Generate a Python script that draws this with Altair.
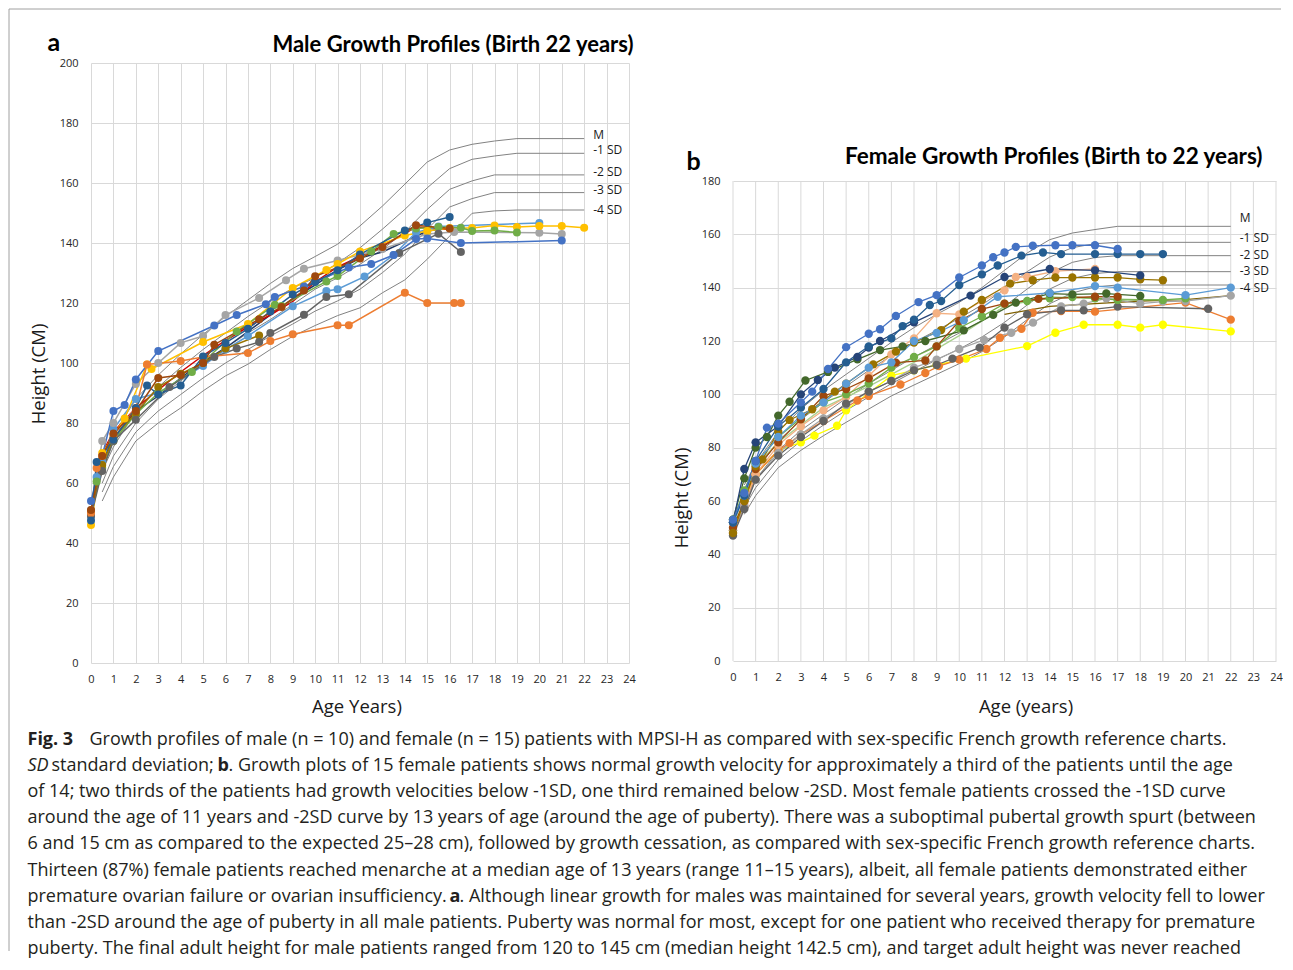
import altair as alt
import pandas as pd

FONT = "Open Sans"
TITLE_FONT = "Lato"
GRID = "#d9d9d9"
REF_COLOR = "#828282"
TEXT = "#1a1a1a"

AGE_TICKS = list(range(25))
MALE_HEIGHT_TICKS = list(range(0, 201, 20))
FEMALE_HEIGHT_TICKS = list(range(0, 181, 20))
REF_NAMES = ["M", "-1 SD", "-2 SD", "-3 SD", "-4 SD"]

# ---------------- male reference curves ----------------
MALE_REF_AGE = [0.5, 1, 2, 3, 4, 5, 6, 7, 8, 9, 10, 11, 12, 13, 14, 15, 16, 17, 18, 19, 22]
MALE_REF_M = [68, 76, 88, 96, 103, 109.5, 115.5, 121, 126.5, 131.5, 135.5, 139.6, 145.7, 152.3, 159.6, 167, 171, 172.9, 174, 174.8, 174.8]
MALE_REF_SD1 = [64, 72, 84, 92, 98.5, 104.5, 110, 115.5, 120.5, 125, 128.4, 133.3, 138.4, 144.6, 151.2, 158.4, 164.8, 167.9, 169, 169.9, 169.9]
MALE_REF_SD2 = [60, 69, 80, 88, 94, 99.5, 105, 110, 114.5, 119.5, 124.6, 128.4, 132.9, 137.9, 143.7, 151.2, 157.9, 160.7, 162.7, 162.7, 162.7]
MALE_REF_SD3 = [57, 65.5, 77, 84, 89.5, 95, 100, 104.5, 109, 113, 117.3, 120.7, 124.6, 130.1, 136.3, 144.6, 152, 154.8, 156.8, 156.8, 156.8]
MALE_REF_SD4 = [54, 62, 74, 80, 85, 90.7, 95.7, 99.6, 104.5, 108.9, 112.5, 115.8, 118.4, 123.4, 127.7, 134.6, 142.3, 149.9, 150.7, 151, 151]

# ---------------- female reference curves ----------------
FEMALE_REF_AGE = [0.5, 1, 2, 3, 4, 5, 6, 7, 8, 9, 10, 11, 12, 13, 14, 15, 16, 17, 22]
FEMALE_REF_M = [66, 74, 86, 94.5, 101.5, 107.5, 113.5, 119.5, 125, 130, 134.5, 140, 146.5, 153, 158, 160.5, 161.8, 163, 163]
FEMALE_REF_SD1 = [63, 71, 82.5, 90.5, 97, 103, 109, 114.5, 119.5, 124, 128.5, 133.5, 139.5, 146, 151.5, 155, 156.5, 157, 157]
FEMALE_REF_SD2 = [60, 68, 79, 86.5, 92.5, 98.5, 104, 109, 114, 118.5, 123, 127.5, 133, 139.5, 145.5, 149.5, 151.3, 152, 152]
FEMALE_REF_SD3 = [57.5, 65, 75.5, 82.5, 88.5, 94, 99, 104, 108.5, 113, 117, 121.5, 127, 133.5, 139.5, 143.5, 145.3, 146, 146]
FEMALE_REF_SD4 = [55, 62, 72.5, 79, 84.5, 89.5, 94.5, 99.4, 103.5, 107.5, 111.5, 116, 121.5, 128, 134, 138, 140.3, 141, 141]

# ---------------- male patients (age, height) ----------------
M_BLUE = [(0, 54), (1, 84), (1.5, 86), (2, 94.5), (3, 104), (5.5, 112.5), (6.5, 116), (7.8, 119.6), (8.2, 122), (9.5, 125.5), (11.5, 131.8), (12.5, 133), (13.5, 136), (14.5, 141.3), (15, 141.5), (16.5, 140), (21, 140.8)]
M_LIGHTBLUE = [(0, 49), (0.25, 62), (0.5, 67), (1, 78), (2, 88), (3, 90), (5, 99), (6, 104.5), (7, 109), (9, 118.9), (10.5, 124), (11, 124.6), (12.2, 128.8), (13.5, 136), (14.5, 143.5), (15.5, 145.5), (20, 146.7)]
M_GRAY = [(0, 51), (0.5, 74), (1, 80), (2, 93), (3, 100), (4, 106.7), (5, 109), (6, 116), (7.5, 121.7), (8.7, 127.6), (9.5, 131.4), (11, 134.2), (13, 138), (15, 143), (16.2, 143.7), (20, 143.4), (21, 143)]
M_GOLD = [(0, 46), (0.5, 70), (1.5, 81.5), (2.5, 99.5), (2.7, 98), (5, 107), (7, 113), (9, 125), (10.5, 131), (11, 133), (12, 137.2), (14, 142.5), (15, 144), (16, 145), (17, 145), (18, 145.8), (19, 145.3), (20, 145.7), (21, 145.7), (22, 145.1)]
M_GREEN = [(0, 50), (0.25, 60.5), (0.5, 65), (1, 74), (2, 83), (3, 90), (4.5, 97), (6.5, 110.5), (8.2, 119.4), (8.5, 119), (10.5, 127.2), (11, 129), (12.5, 137.2), (13.5, 143), (14.5, 144.8), (15.5, 145.3), (16.5, 145.1), (17, 144), (18, 144.2), (19, 143.5)]
M_DARKBLUE = [(0, 47.5), (0.25, 67), (1, 74.5), (2, 85), (2.5, 92.5), (3, 89.5), (4, 92.5), (5, 102.2), (6, 106.7), (7, 111.4), (8, 117.2), (9, 122.8), (10, 127), (11, 130.9), (12, 136.2), (14, 144.2), (15, 146.8), (16, 148.7)]
M_BROWN = [(0, 51), (0.5, 69), (1, 76.5), (2, 84), (3, 95), (4, 96), (5, 100), (5.5, 106.1), (7.5, 114.6), (8.5, 118.7), (9.5, 124.2), (10, 128.9), (12, 134.8), (13, 138.7), (14.5, 145.9), (16, 144.8)]
M_OLIVE = [(0, 50), (0.5, 66), (1, 75), (2, 83.3), (3, 92), (4, 96.4), (5, 100), (6, 104.8), (7.5, 109.2)]
M_DARKGRAY = [(0, 49), (0.5, 64), (1, 74), (2, 81.1), (3.5, 92), (5.5, 102), (6.5, 104.8), (7.5, 107), (8, 110), (9.5, 116.1), (10.5, 122), (11.5, 122.9), (13.75, 136.7), (15.5, 143.1), (16.5, 137)]
M_ORANGE = [(0, 50), (0.25, 65), (0.5, 69), (1, 76), (2, 85), (2.5, 99.5), (4, 100.7), (5, 102), (7, 103.3), (8, 107.3), (9, 109.6), (11, 112.6), (11.5, 112.6), (14, 123.4), (15, 120), (16.2, 120), (16.5, 120)]
M_RED = [(0, 50), (0.5, 70), (1, 77), (2, 85), (3, 91), (4, 97), (5, 102.5), (6, 107.5), (7, 112), (8, 116), (9, 120.5), (10, 127), (11, 132), (12, 135.5), (13, 139), (14.5, 145.3), (16, 144.5)]
M_NAVY = [(0, 49), (0.5, 67), (1, 75), (2, 84), (3, 89), (4, 95), (5, 100.5), (6, 105), (7, 110.5), (8, 116), (9, 121.5), (10, 126), (11, 131), (12, 135), (13, 137), (14, 140.5), (15, 144), (16, 145)]

MALE_NAMES = ["m_navy", "m_red", "m_lightblue", "m_gray", "m_gold", "m_green", "m_olive", "m_darkgray", "m_orange", "m_blue", "m_darkblue", "m_brown"]
MALE_SERIES = [M_NAVY, M_RED, M_LIGHTBLUE, M_GRAY, M_GOLD, M_GREEN, M_OLIVE, M_DARKGRAY, M_ORANGE, M_BLUE, M_DARKBLUE, M_BROWN]
MALE_COLORS = ["#203864", "#d00000", "#5b9bd5", "#a5a5a5", "#ffc000", "#70ad47", "#997300", "#636363", "#ed7d31", "#4472c4", "#255e91", "#9e480e"]
MALE_MARKERS = [False, False, True, True, True, True, True, True, True, True, True, True]

# ---------------- female patients (age, height) ----------------
F_BLUE = [(0, 53), (0.5, 63), (1, 75), (1.5, 87.5), (2, 89), (3, 97), (3.5, 101), (4.2, 109.5), (5, 117.7), (6, 122.7), (6.5, 124.4), (7.2, 129.4), (8.2, 134.6), (9, 137.2), (10, 143.8), (11, 148.3), (11.5, 151.4), (12, 153.2), (12.5, 155.3), (13.25, 155.7), (14.25, 155.9), (15, 155.9), (16, 155.9), (17, 154.5)]
F_DARKBLUE = [(0, 52), (0.5, 62), (1, 75), (2, 88), (3, 95), (4, 102), (5, 112), (6, 118), (7, 121), (7.5, 125.6), (8, 128), (8.7, 133.5), (9.2, 135), (10, 141), (11, 145), (11.7, 148.3), (12.75, 152), (13.7, 153.2), (14.5, 152.6), (16, 152.6), (17, 152.6), (18, 152.6), (19, 152.6)]
F_NAVY = [(0, 52), (0.5, 72), (1, 82), (2, 88), (3, 100), (3.75, 105.4), (4.5, 110), (5.5, 114), (6, 117.5), (6.5, 120), (8, 127), (10.5, 137), (12, 144), (14, 147), (16, 146.5), (18, 144.6)]
F_PEACH = [(0, 49), (0.5, 59), (1, 70), (2, 81), (3, 88), (4, 94), (5, 99), (6, 107), (7, 115), (8, 121), (9, 130.4), (10, 130), (11, 135), (12, 139), (12.5, 144), (13, 144), (14.25, 146.2), (16, 147)]
F_ORANGE = [(0, 48), (0.5, 58), (1, 70), (2, 79), (2.5, 81.7), (3, 85), (4, 90), (5.5, 97.7), (6, 99.4), (7.4, 103.7), (8.5, 108), (9.1, 110.6), (10, 113), (11.2, 117), (11.8, 121.2), (12.75, 124.6), (13.25, 130.6), (14.5, 131.2), (16, 131), (20, 134.4), (22, 128)]
F_YELLOW = [(0, 49), (0.5, 60), (1, 70), (2, 79), (3, 82), (3.6, 84.5), (4.6, 88.2), (5, 94), (7, 107), (8, 109), (9, 111), (10.3, 113.4), (13, 118.1), (14.25, 123.1), (15.5, 126.1), (17, 126.1), (18, 125), (19, 126.1), (22, 123.6)]
F_GRAY = [(0, 49), (0.5, 58), (1, 68), (2, 78), (3, 85), (4, 91), (5, 96), (6, 101), (7, 105), (8, 110), (9, 113), (10, 117), (11.1, 120.4), (12.3, 123.1), (13.26, 126.9), (14.5, 133), (15.5, 134), (16.5, 136), (18, 134), (19, 134.8), (20, 135), (22, 137)]
F_DARKGRAY = [(0, 47), (0.5, 57), (1, 68), (2, 77), (3, 84), (4, 90), (5, 96.5), (6, 101), (7, 105), (8, 109), (9, 111), (9.7, 113.4), (10.9, 117.5), (12, 125), (13, 130), (14.5, 131.5), (15.5, 131.5), (17, 132.9), (21, 132.1)]
F_OLIVE = [(0, 48), (0.5, 60), (1, 73), (1.3, 75.6), (2, 86), (2.5, 90.4), (3.5, 94.4), (4.5, 101), (5, 104), (6.2, 111.25), (7.2, 116), (8, 119.4), (9.2, 124.1), (10.2, 131), (11, 135.4), (12.25, 141.5), (13.25, 142.8), (14.25, 143.8), (15, 143.8), (16, 143.8), (17, 143.8), (18, 143.1), (19, 142.8)]
F_BROWN = [(0, 50), (0.5, 60), (1, 72), (2, 82), (3, 90.6), (4, 99.4), (5, 102), (6, 106), (7.2, 111.9), (8.5, 112.7), (9, 118), (10, 127.5), (11, 132), (12, 134), (13.5, 135.8), (16, 136.6), (17, 136.6)]
F_GREEN = [(0, 53), (0.5, 64), (1, 74), (2, 84), (3, 91), (4, 97), (5, 100), (6, 104), (7, 110), (8, 114), (9, 118), (10, 124.9), (11, 129.2), (12, 134), (13, 135), (14, 136), (15, 136.5), (16, 136), (17, 135.4), (19, 135.4), (20, 136)]
F_DARKGREEN = [(0, 53), (0.5, 68.5), (1, 80), (1.5, 84), (2, 92), (2.5, 97.2), (3.2, 105.2), (4.2, 108.4), (5.5, 113.1), (6.5, 116.6), (7.5, 118), (8.5, 120), (10.2, 124), (11.5, 129.8), (12.5, 134.4), (14, 137.8), (15, 137.5), (16.5, 137.8), (18, 136.9)]
F_LIGHTBLUE = [(0, 52), (0.5, 62), (1, 74), (2, 84), (3, 92), (4, 97), (5, 104), (6, 110), (7, 112), (8, 120), (9, 123), (10.2, 127.8), (11.7, 136.6), (14, 138), (16, 140.6), (17, 140), (20, 137.2), (22, 140)]
F_LIGHTGREEN = [(0, 51), (1, 73), (2, 82), (4, 95), (6, 103), (8, 112), (10, 122), (12, 133), (14, 136.5), (16, 136), (18, 135.5), (20, 135.5)]
F_DARKOLIVE = [(12, 130), (14, 133), (16, 134), (18, 135), (20, 135.5), (22, 137)]

FEMALE_NAMES = ["f_darkolive", "f_lightgreen", "f_yellow", "f_orange", "f_peach", "f_gray", "f_darkgray", "f_green", "f_darkgreen", "f_brown", "f_olive", "f_lightblue", "f_navy", "f_darkblue", "f_blue"]
FEMALE_SERIES = [F_DARKOLIVE, F_LIGHTGREEN, F_YELLOW, F_ORANGE, F_PEACH, F_GRAY, F_DARKGRAY, F_GREEN, F_DARKGREEN, F_BROWN, F_OLIVE, F_LIGHTBLUE, F_NAVY, F_DARKBLUE, F_BLUE]
FEMALE_COLORS = ["#7f6000", "#a9d18e", "#ffff00", "#ed7d31", "#f4b183", "#a5a5a5", "#636363", "#70ad47", "#43682b", "#9e480e", "#997300", "#5b9bd5", "#264478", "#255e91", "#4472c4"]
FEMALE_MARKERS = [False, False, True, True, True, True, True, True, True, True, True, True, True, True, True]

CAPTION = [
    [("Fig. 3", "bold", 27), ("Growth profiles of male (n = 10) and female (n = 15) patients with MPSI-H as compared with sex-specific French growth reference charts.", "normal", 89)],
    [("SD", "italic", 27), ("standard deviation;", "normal", 51), ("b", "bold", 217), (". Growth plots of 15 female patients shows normal growth velocity for approximately a third of the patients until the age", "normal", 228)],
    [("of 14; two thirds of the patients had growth velocities below -1SD, one third remained below -2SD. Most female patients crossed the -1SD curve", "normal", 27)],
    [("around the age of 11 years and -2SD curve by 13 years of age (around the age of puberty). There was a suboptimal pubertal growth spurt (between", "normal", 27)],
    [("6 and 15 cm as compared to the expected 25\u201328 cm), followed by growth cessation, as compared with sex-specific French growth reference charts.", "normal", 27)],
    [("Thirteen (87%) female patients reached menarche at a median age of 13 years (range 11\u201315 years), albeit, all female patients demonstrated either", "normal", 27)],
    [("premature ovarian failure or ovarian insufficiency.", "normal", 27), ("a", "bold", 449), (". Although linear growth for males was maintained for several years, growth velocity fell to lower", "normal", 459)],
    [("than -2SD around the age of puberty in all male patients. Puberty was normal for most, except for one patient who received therapy for premature", "normal", 27)],
    [("puberty. The final adult height for male patients ranged from 120 to 145 cm (median height 142.5 cm), and target adult height was never reached", "normal", 27)],
]

ONE = pd.DataFrame({"k": [0]})


def ref_frame(ages, curves):
    rows = []
    for name, vals in zip(REF_NAMES, curves):
        for a, v in zip(ages, vals):
            rows.append({"curve": name, "age": a, "height": v})
    return pd.DataFrame(rows)


def series_frame(names, series, markers, only_markers=False):
    rows = []
    for name, pts, mk in zip(names, series, markers):
        if only_markers and not mk:
            continue
        for i, (a, h) in enumerate(pts):
            rows.append({"series": name, "age": a, "height": h, "ord": i})
    return pd.DataFrame(rows)


def text_layer(txt, x, y, size, weight="normal", style="normal", align="left",
               baseline="middle", font=FONT, color=TEXT):
    return alt.Chart(ONE).mark_text(
        text=txt, align=align, baseline=baseline, font=font, fontSize=size,
        fontWeight=weight, fontStyle=style, color=color
    ).encode(x=alt.value(x), y=alt.value(y))


def axis_x(title, tx, ty, grid):
    return alt.Axis(values=AGE_TICKS, grid=grid, gridColor=GRID, gridWidth=1, domain=False,
                    ticks=False, labelFont=FONT, labelFontSize=11, labelColor="#262626",
                    labelPadding=10, labelFlush=False, labelOverlap=False,
                    title=title, titleFont=FONT, titleFontSize=18.5, titleFontWeight="normal",
                    titleColor=TEXT, titleX=tx, titleY=ty, titleBaseline="middle",
                    titleAlign="center")


def axis_y(values, title, tx, ty):
    return alt.Axis(values=values, grid=True, gridColor=GRID, gridWidth=1, domain=False,
                    ticks=False, labelFont=FONT, labelFontSize=11, labelColor="#262626",
                    labelPadding=13, labelOverlap=False,
                    title=title, titleFont=FONT, titleFontSize=18.5, titleFontWeight="normal",
                    titleColor=TEXT, titleX=tx, titleY=ty, titleBaseline="middle",
                    titleAlign="center", titleAngle=-90)


def panel(ref_ages, ref_curves, label_dy, names, series, colors, markers, x_enc, y_enc, msize, lwidth):
    color = alt.Color("series:N", scale=alt.Scale(domain=names, range=colors), legend=None)
    layers = [alt.Chart(ref_frame(ref_ages, ref_curves)).mark_line(
        color=REF_COLOR, strokeWidth=1).encode(x=x_enc, y=y_enc, detail="curve:N", order="age:Q")]
    for name, curve, dy in zip(REF_NAMES, ref_curves, label_dy):
        lab = pd.DataFrame({"label": [name], "age": [ref_ages[-1]], "height": [curve[-1]]})
        layers.append(alt.Chart(lab).mark_text(
            align="left", baseline="middle", dx=9, dy=dy, font=FONT, fontSize=12, color=TEXT
        ).encode(x=x_enc, y=y_enc, text="label:N"))
    layers.append(alt.Chart(series_frame(names, series, markers)).mark_line(
        strokeWidth=lwidth).encode(x=x_enc, y=y_enc, color=color, order="ord:Q"))
    layers.append(alt.Chart(series_frame(names, series, markers, True)).mark_circle(
        size=msize, opacity=1).encode(x=x_enc, y=y_enc, color=color))
    return layers


# ---------------- left (male) panel ----------------
LX0, LY0 = 90.5, 62.5
mx = alt.X("age:Q", scale=alt.Scale(domain=[0, 24], nice=False, zero=False),
           axis=axis_x("Age Years)", 356 - LX0, 43.5, True))
my = alt.Y("height:Q", scale=alt.Scale(domain=[0, 200], nice=False),
           axis=axis_y(MALE_HEIGHT_TICKS, "Height (CM)", 38 - LX0, 373 - LY0))

male_layers = panel(MALE_REF_AGE, [MALE_REF_M, MALE_REF_SD1, MALE_REF_SD2, MALE_REF_SD3, MALE_REF_SD4],
                    [-4, -3, -3, -3, 0],
                    MALE_NAMES, MALE_SERIES, MALE_COLORS, MALE_MARKERS, mx, my, 64, 1.5)

male_layers.append(text_layer("Male Growth Profiles (Birth 22 years)", 633 - LX0, 51 - LY0, 22,
                              weight="bold", align="right", baseline="alphabetic", font=TITLE_FONT, color="#000000"))
male_layers.append(text_layer("a", 47 - LX0, 50 - LY0, 25, weight="bold", baseline="alphabetic",
                              font=TITLE_FONT, color="#000000"))

# figure frame
male_layers.append(alt.Chart(ONE).mark_rule(color="#a0a0a0", strokeWidth=1).encode(
    x=alt.value(-82), y=alt.value(-54), y2=alt.value(888)))
male_layers.append(alt.Chart(ONE).mark_rule(color="#a0a0a0", strokeWidth=1).encode(
    x=alt.value(-82), x2=alt.value(1190), y=alt.value(-54)))

# caption
for i, segs in enumerate(CAPTION):
    py = 739 + i * 26.2
    for txt, kind, px in segs:
        male_layers.append(text_layer(
            txt, px - LX0, py - LY0, 18,
            weight="bold" if kind == "bold" else "normal",
            style="italic" if kind == "italic" else "normal", color="#231f20"))

male_chart = alt.layer(*male_layers).properties(width=538, height=600)

# ---------------- right (female) panel ----------------
RX0, RY0 = 732.5, 62.5
RH = 598
RBOT = RY0 + RH
fx = alt.X("age:Q", scale=alt.Scale(domain=[0, 24], nice=False, zero=False),
           axis=axis_x("Age (years)", 1025 - RX0, 706 - RBOT, False))
fy = alt.Y("height:Q", scale=alt.Scale(domain=[0, 180 * RH / 480], nice=False),
           axis=axis_y(FEMALE_HEIGHT_TICKS, "Height (CM)", 681 - RX0, 497 - RY0))

grid_df = pd.DataFrame({"age": AGE_TICKS})
vgrid = alt.Chart(grid_df).mark_rule(color=GRID, strokeWidth=1).encode(
    x=fx, y=alt.datum(0), y2=alt.datum(180))

female_layers = [vgrid] + panel(FEMALE_REF_AGE,
                                [FEMALE_REF_M, FEMALE_REF_SD1, FEMALE_REF_SD2, FEMALE_REF_SD3, FEMALE_REF_SD4],
                                [-8, -4, -1, -1, 3],
                                FEMALE_NAMES, FEMALE_SERIES, FEMALE_COLORS, FEMALE_MARKERS, fx, fy, 70, 1.3)
female_layers.append(text_layer("Female Growth Profiles (Birth to 22 years)", 1262 - RX0, 163 - RY0, 22.5,
                                weight="bold", align="right", baseline="alphabetic", font=TITLE_FONT, color="#000000"))
female_layers.append(text_layer("b", 686 - RX0, 169 - RY0, 25, weight="bold", baseline="alphabetic",
                                font=TITLE_FONT, color="#000000"))

female_chart = alt.layer(*female_layers).properties(width=543, height=RH)

chart = alt.hconcat(male_chart, female_chart, spacing=104, bounds="flush").resolve_scale(
    color="independent"
).properties(padding=0, background="white").configure_view(stroke=None)

chart.save("out.html", embed_options={"renderer": "svg", "actions": False})
